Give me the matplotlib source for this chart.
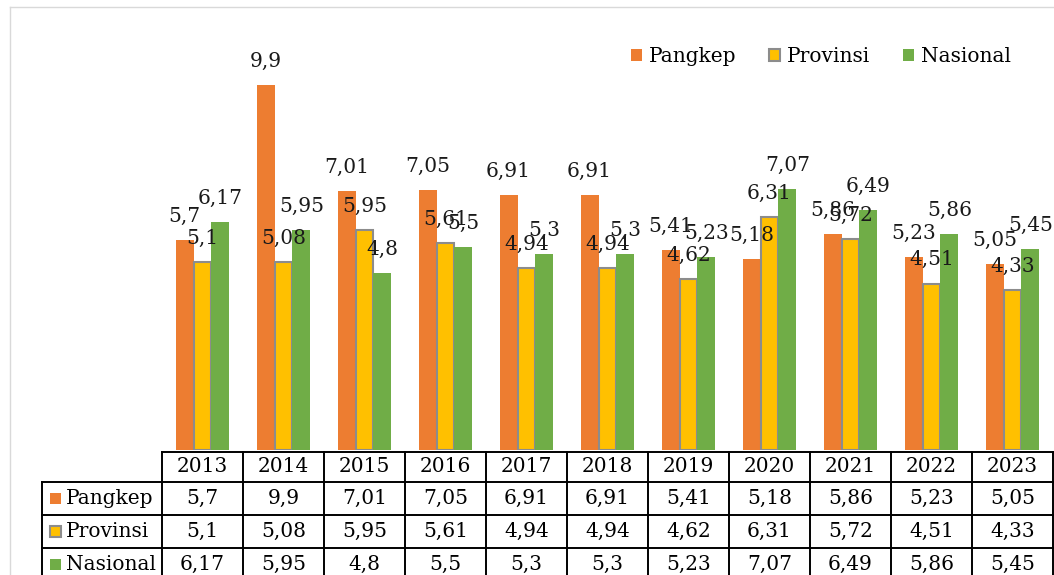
import matplotlib
matplotlib.use('Agg')
from matplotlib import pyplot as plt
from matplotlib.lines import Line2D
from matplotlib.patches import Rectangle

# data
years = ['2013', '2014', '2015', '2016', '2017', '2018', '2019', '2020', '2021', '2022', '2023']
pangkep = [5.7, 9.9, 7.01, 7.05, 6.91, 6.91, 5.41, 5.18, 5.86, 5.23, 5.05]
provinsi = [5.1, 5.08, 5.95, 5.61, 4.94, 4.94, 4.62, 6.31, 5.72, 4.51, 4.33]
nasional = [6.17, 5.95, 4.8, 5.5, 5.3, 5.3, 5.23, 7.07, 6.49, 5.86, 5.45]
series_names = ['Pangkep', 'Provinsi', 'Nasional']

plt.rcParams['font.family'] = ['DejaVu Serif']
FS = 14.5

W, H = 1054, 575
fig = plt.figure(figsize=(W / 100, H / 100), dpi=100)
ax = fig.add_axes([162 / W, (H - 450) / H, 891 / W, 443 / H])

def fmt(v):
    return str(v).replace('.', ',')

x = list(range(len(years)))
bw = 0.222
b1 = ax.bar([i - bw for i in x], pangkep, bw, color='#ED7D31')
b2 = ax.bar(x, provinsi, bw, color='#FFC000', edgecolor='#8c8c8c', linewidth=1.5)
b3 = ax.bar([i + bw for i in x], nasional, bw, color='#70AD47')

for bars, vals in [(b1, pangkep), (b2, provinsi), (b3, nasional)]:
    for rect, v in zip(bars, vals):
        ax.annotate(fmt(v), (rect.get_x() + rect.get_width() / 2, v),
                    xytext=(0, 17), textcoords='offset points',
                    ha='center', va='center', fontsize=FS, color='#1a1a1a')

ax.set_xlim(-0.5, len(years) - 0.5)
ax.set_ylim(0, 12)
ax.axis('off')

# legend on top
fig.legend([b1, b2, b3], series_names, loc='center', bbox_to_anchor=(821 / W, 1 - 57 / H),
           ncol=3, frameon=False, fontsize=FS, handlelength=0.55, handleheight=0.55,
           handletextpad=0.35, columnspacing=1.6)

# data table below the chart
tr = ax.get_xaxis_transform()
def fy(ypx):
    return (450 - ypx) / 443

lab_left = -0.5 - (162 - 42) / 81
right = len(years) - 0.5
row_tops = [482, 515, 548]
kw = dict(transform=tr, clip_on=False, color='black', lw=1.4)
ax.plot([-0.5, right], [fy(452), fy(452)], **kw)
for yt in row_tops:
    ax.plot([lab_left, right], [fy(yt), fy(yt)], **kw)
ax.plot([lab_left, lab_left], [fy(482), fy(580)], **kw)
for i in range(len(years) + 1):
    ax.plot([i - 0.5, i - 0.5], [fy(452), fy(580)], **kw)

for i, yr in enumerate(years):
    ax.text(i, fy(467), yr, transform=tr, ha='center', va='center', fontsize=FS, clip_on=False)

colors = ['#ED7D31', '#FFC000', '#70AD47']
edges = ['none', '#8c8c8c', 'none']
for r, (name, vals) in enumerate(zip(series_names, [pangkep, provinsi, nasional])):
    yc = row_tops[r] + 16.5
    fig.add_artist(Rectangle((50 / W, 1 - (yc + 5.5) / H), 11 / W, 11 / H,
                             transform=fig.transFigure, facecolor=colors[r],
                             edgecolor=edges[r], linewidth=1.5))
    fig.text(66 / W, 1 - yc / H, name, ha='left', va='center', fontsize=FS)
    for i, v in enumerate(vals):
        ax.text(i, fy(yc), fmt(v), transform=tr, ha='center', va='center',
                fontsize=FS, clip_on=False)

# outer chart border
fig.add_artist(Line2D([10 / W, 10 / W], [0, 1 - 7 / H], color='#d9d9d9', lw=1,
                      transform=fig.transFigure))
fig.add_artist(Line2D([10 / W, 1], [1 - 7 / H, 1 - 7 / H], color='#d9d9d9', lw=1,
                      transform=fig.transFigure))

fig.savefig('out.png', dpi=100)
